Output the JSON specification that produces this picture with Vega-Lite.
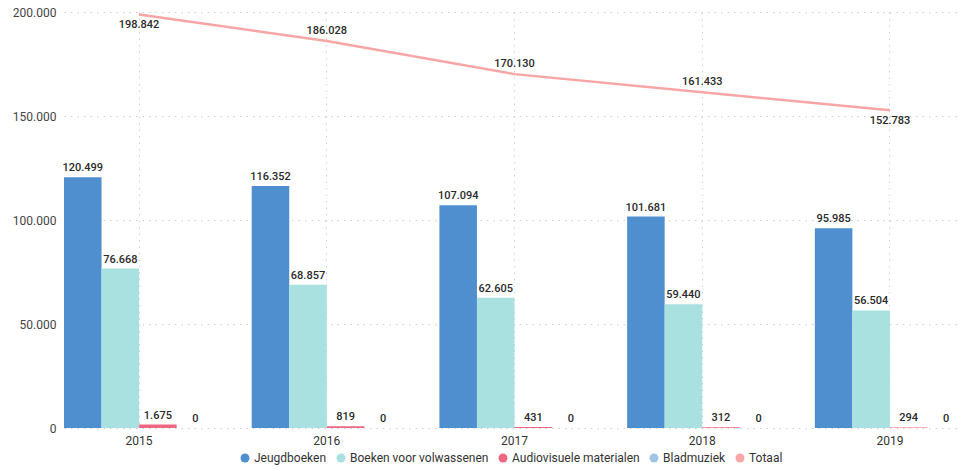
{
  "$schema": "https://vega.github.io/schema/vega-lite/v6.json",
  "width": 894,
  "height": 416,
  "autosize": {"type": "none"},
  "padding": {"left": 64, "top": 12, "right": 0, "bottom": 42},
  "background": "white",
  "config": {
    "locale": {"number": {"decimal": ",", "thousands": ".", "grouping": [3], "currency": ["€", ""]}},
    "view": {"stroke": null},
    "font": "Roboto",
    "legend": {"layout": {"bottom": {"anchor": "middle"}}}
  },
  "data": {
    "values": [
      {"year": "2015", "series": "Jeugdboeken", "value": 120499},
      {"year": "2015", "series": "Boeken voor volwassenen", "value": 76668},
      {"year": "2015", "series": "Audiovisuele materialen", "value": 1675},
      {"year": "2015", "series": "Bladmuziek", "value": 0},
      {"year": "2015", "series": "Totaal", "value": 198842},
      {"year": "2016", "series": "Jeugdboeken", "value": 116352},
      {"year": "2016", "series": "Boeken voor volwassenen", "value": 68857},
      {"year": "2016", "series": "Audiovisuele materialen", "value": 819},
      {"year": "2016", "series": "Bladmuziek", "value": 0},
      {"year": "2016", "series": "Totaal", "value": 186028},
      {"year": "2017", "series": "Jeugdboeken", "value": 107094},
      {"year": "2017", "series": "Boeken voor volwassenen", "value": 62605},
      {"year": "2017", "series": "Audiovisuele materialen", "value": 431},
      {"year": "2017", "series": "Bladmuziek", "value": 0},
      {"year": "2017", "series": "Totaal", "value": 170130},
      {"year": "2018", "series": "Jeugdboeken", "value": 101681},
      {"year": "2018", "series": "Boeken voor volwassenen", "value": 59440},
      {"year": "2018", "series": "Audiovisuele materialen", "value": 312},
      {"year": "2018", "series": "Bladmuziek", "value": 0},
      {"year": "2018", "series": "Totaal", "value": 161433},
      {"year": "2019", "series": "Jeugdboeken", "value": 95985},
      {"year": "2019", "series": "Boeken voor volwassenen", "value": 56504},
      {"year": "2019", "series": "Audiovisuele materialen", "value": 294},
      {"year": "2019", "series": "Bladmuziek", "value": 0},
      {"year": "2019", "series": "Totaal", "value": 152783}
    ]
  },
  "encoding": {
    "x": {
      "field": "year",
      "type": "nominal",
      "scale": {"range": [0, 901], "paddingInner": 0.2, "paddingOuter": 0},
      "axis": {
        "title": null,
        "labelAngle": 0,
        "labelFontSize": 12,
        "labelColor": "#333333",
        "labelPadding": 7,
        "domain": false,
        "ticks": false,
        "grid": true,
        "bandPosition": 0.5,
        "gridDash": [1.5, 5],
        "gridColor": "#cfcfcf",
        "gridWidth": 1
      }
    },
    "y": {
      "field": "value",
      "type": "quantitative",
      "scale": {"domain": [0, 200000], "nice": false},
      "axis": {
        "title": null,
        "values": [0, 50000, 100000, 150000, 200000],
        "format": ",d",
        "labelFontSize": 12,
        "labelColor": "#444444",
        "labelPadding": 8,
        "domain": false,
        "ticks": false,
        "gridDash": [1.5, 5],
        "gridColor": "#cfcfcf",
        "gridWidth": 1
      }
    },
    "color": {
      "field": "series",
      "type": "nominal",
      "scale": {
        "domain": ["Jeugdboeken", "Boeken voor volwassenen", "Audiovisuele materialen", "Bladmuziek", "Totaal"],
        "range": ["#4f8fcf", "#a8e1df", "#ee6680", "#9fc5e3", "#f8a5a5"]
      },
      "legend": {
        "title": null,
        "orient": "bottom",
        "direction": "horizontal",
        "symbolType": "circle",
        "symbolSize": 80,
        "symbolStrokeWidth": 0,
        "symbolOpacity": 1,
        "labelFontSize": 12,
        "labelColor": "#333333",
        "columnPadding": 8,
        "labelOffset": 3,
        "offset": 6
      }
    }
  },
  "layer": [
    {
      "transform": [{"filter": "datum.series != 'Totaal'"}],
      "mark": {"type": "bar"},
      "encoding": {
        "xOffset": {
          "field": "series",
          "type": "nominal",
          "sort": ["Jeugdboeken", "Boeken voor volwassenen", "Audiovisuele materialen", "Bladmuziek"],
          "scale": {"paddingInner": 0, "paddingOuter": 0}
        }
      }
    },
    {
      "transform": [{"filter": "datum.series != 'Totaal'"}],
      "mark": {"type": "text", "baseline": "bottom", "dy": -4, "fontSize": 11, "fontWeight": 500, "color": "#2a2a2a"},
      "encoding": {
        "xOffset": {
          "field": "series",
          "type": "nominal",
          "sort": ["Jeugdboeken", "Boeken voor volwassenen", "Audiovisuele materialen", "Bladmuziek"],
          "scale": {"paddingInner": 0, "paddingOuter": 0}
        },
        "text": {"field": "value", "type": "quantitative", "format": ",d"},
        "color": {"value": "#2a2a2a"}
      }
    },
    {
      "transform": [{"filter": "datum.series == 'Totaal'"}],
      "mark": {"type": "line", "strokeWidth": 2.5},
      "encoding": {}
    },
    {
      "transform": [{"filter": "datum.series == 'Totaal' && (datum.year == '2015' || datum.year == '2019')"}],
      "mark": {"type": "text", "baseline": "top", "dy": 5, "fontSize": 11, "fontWeight": 500},
      "encoding": {
        "text": {"field": "value", "type": "quantitative", "format": ",d"},
        "color": {"value": "#2a2a2a"}
      }
    },
    {
      "transform": [{"filter": "datum.series == 'Totaal' && datum.year != '2015' && datum.year != '2019'"}],
      "mark": {"type": "text", "baseline": "bottom", "dy": -5, "fontSize": 11, "fontWeight": 500},
      "encoding": {
        "text": {"field": "value", "type": "quantitative", "format": ",d"},
        "color": {"value": "#2a2a2a"}
      }
    }
  ]
}
